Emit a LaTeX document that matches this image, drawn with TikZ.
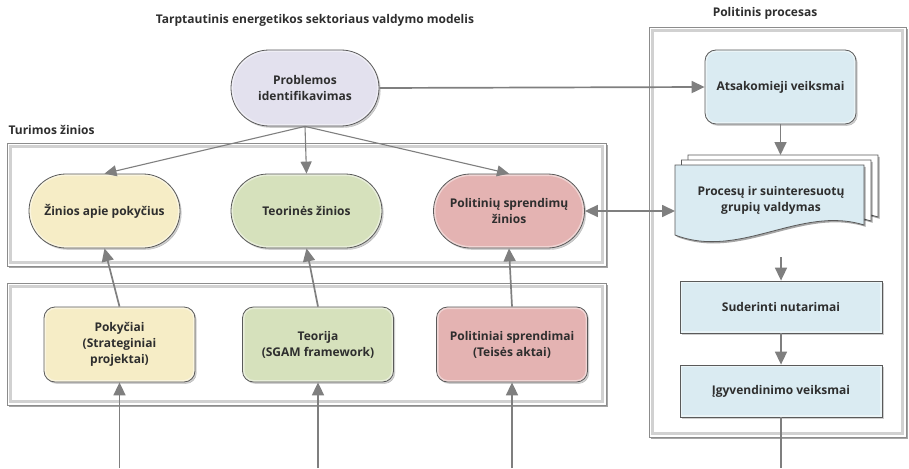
\documentclass[tikz,border=0pt]{standalone}
\usepackage{fontspec}
\setmainfont{Open Sans}
\usetikzlibrary{arrows.meta,shadows}

\definecolor{edgegray}{HTML}{5A5A5A}
\definecolor{arrowgray}{HTML}{7F7F7F}
\definecolor{txtgray}{HTML}{2E2E2E}
\definecolor{lavender}{HTML}{E3E1EE}
\definecolor{paleblue}{HTML}{DAEBF2}
\definecolor{paleyellow}{HTML}{F6EDC6}
\definecolor{palegreen}{HTML}{D6E1BC}
\definecolor{palepink}{HTML}{E4B3B2}

\tikzset{
  lbl/.style={font=\bfseries\fontsize{12}{16}\selectfont, text=txtgray, align=center},
  softshadow/.style={drop shadow={shadow xshift=1.6pt, shadow yshift=-1.8pt, fill=black, opacity=0.35}},
  boxbase/.style={lbl, draw=edgegray, line width=0.8pt, softshadow,
    preaction={fill=#1},
    preaction={draw=white, line width=4pt, opacity=0.45}},
  pill/.style={boxbase=#1, minimum width=151pt, minimum height=74pt, rounded corners=37pt, inner sep=2pt},
  rbox/.style={boxbase=#1, minimum width=151pt, minimum height=75pt, rounded corners=11pt, inner sep=2pt},
  sqbox/.style={boxbase=paleblue, minimum width=202pt, minimum height=52pt},
  frameout/.style={draw=black!45, line width=0.9pt, softshadow, fill=white},
  framein/.style={draw=black!18, line width=2.6pt},
  arr/.style={draw=arrowgray, line width=1.7pt, -{Triangle[length=13pt,width=12pt]}},
  thinarr/.style={draw=arrowgray, line width=1.1pt, -{Triangle[length=12pt,width=11pt]}},
  dblarr/.style={draw=arrowgray, line width=1.7pt, {Triangle[length=13pt,width=12pt]}-{Triangle[length=13pt,width=12pt]}},
  plain/.style={draw=arrowgray, line width=1.7pt},
  doc/.style={draw=edgegray, line width=0.8pt, fill=#1},
  heading/.style={font=\bfseries\fontsize{12}{16}\selectfont, text=txtgray}
}

\begin{document}
\begin{tikzpicture}[x=1pt, y=-1pt]
\useasboundingbox (0,0) rectangle (909,468);

% headings
\node[heading] (title) at (315,20) {Tarptautinis energetikos sektoriaus valdymo modelis};
\node[heading] (poltitle) at (765,13) {Politinis procesas};
\node[heading, anchor=west] (turtitle) at (5,130) {Turimos žinios};

% group frames
\draw[frameout] (7,143) rectangle (606,266);
\draw[framein] (10.5,146.5) rectangle (602.5,262.5);
\draw[frameout] (7,283) rectangle (606,405);
\draw[framein] (10.5,286.5) rectangle (602.5,401.5);
\draw[frameout] (649,27) rectangle (906,437);
\draw[framein] (652.5,30.5) rectangle (902.5,433.5);

% top level
\node[pill=lavender, minimum width=148pt, minimum height=76pt, rounded corners=38pt] (prob) at (305,88) {Problemos\\identifikavimas};
\node[rbox=paleblue, minimum height=74pt] (atsak) at (780.5,87) {Atsakomieji veiksmai};

% knowledge nodes
\node[pill=paleyellow] (zin1) at (104.5,211) {Žinios apie pokyčius};
\node[pill=palegreen] (zin2) at (306.5,211) {Teorinės žinios};
\node[pill=palepink] (zin3) at (509,211) {Politinių sprendimų\\žinios};

% source nodes
\node[rbox=paleyellow] (pok) at (119.5,344.5) {Pokyčiai\\(Strateginiai\\projektai)};
\node[rbox=palegreen] (teor) at (318,344.5) {Teorija\\(SGAM framework)};
\node[rbox=palepink] (polit) at (512,344.5) {Politiniai sprendimai\\(Teisės aktai)};

% stacked documents
\draw[doc=white, softshadow] (688,155) -- (878,155) -- (878,217)
  .. controls (814,197) and (754,250) .. (688,225) -- cycle;
\draw[doc=white, softshadow] (681.5,160) -- (871,160) -- (871,221)
  .. controls (807,201) and (747,254) .. (681.5,230) -- cycle;
\draw[doc=paleblue, softshadow] (675,165) -- (864,165) -- (864,225)
  .. controls (800,205) and (740,260) .. (675,235) -- cycle;
\node[lbl] (proc) at (771,200) {Procesų ir suinteresuotų\\grupių valdymas};
\coordinate (procTop) at (780.5,155);
\coordinate (procW) at (675,211);
\coordinate (procOut) at (781,257);

% process steps
\node[sqbox] (suder) at (781,307) {Suderinti nutarimai};
\node[sqbox] (igyv) at (781,391) {Įgyvendinimo veiksmai};

% free ends
\coordinate (pokIn) at (119.5,468);
\coordinate (teorIn) at (318,468);
\coordinate (politIn) at (512,468);
\coordinate (igyvOut) at (781,468);

% connectors
\draw[arr] (prob.east) -- (atsak.west);
\draw[thinarr] (prob.south) -- (zin1.north);
\draw[thinarr] (prob.south) -- (zin2.north);
\draw[thinarr] (prob.south) -- (zin3.north);
\draw[arr] (pok.north) -- (zin1.south);
\draw[arr] (teor.north) -- (zin2.south);
\draw[arr] (polit.north) -- (zin3.south);
\draw[arr] (pokIn) -- (pok.south);
\draw[arr] (teorIn) -- (teor.south);
\draw[arr] (politIn) -- (polit.south);
\draw[dblarr] (zin3.east) -- (procW);
\draw[arr] (atsak.south) -- (procTop);
\draw[arr] (procOut) -- (suder.north);
\draw[arr] (suder.south) -- (igyv.north);
\draw[plain] (igyv.south) -- (igyvOut);
\end{tikzpicture}
\end{document}
